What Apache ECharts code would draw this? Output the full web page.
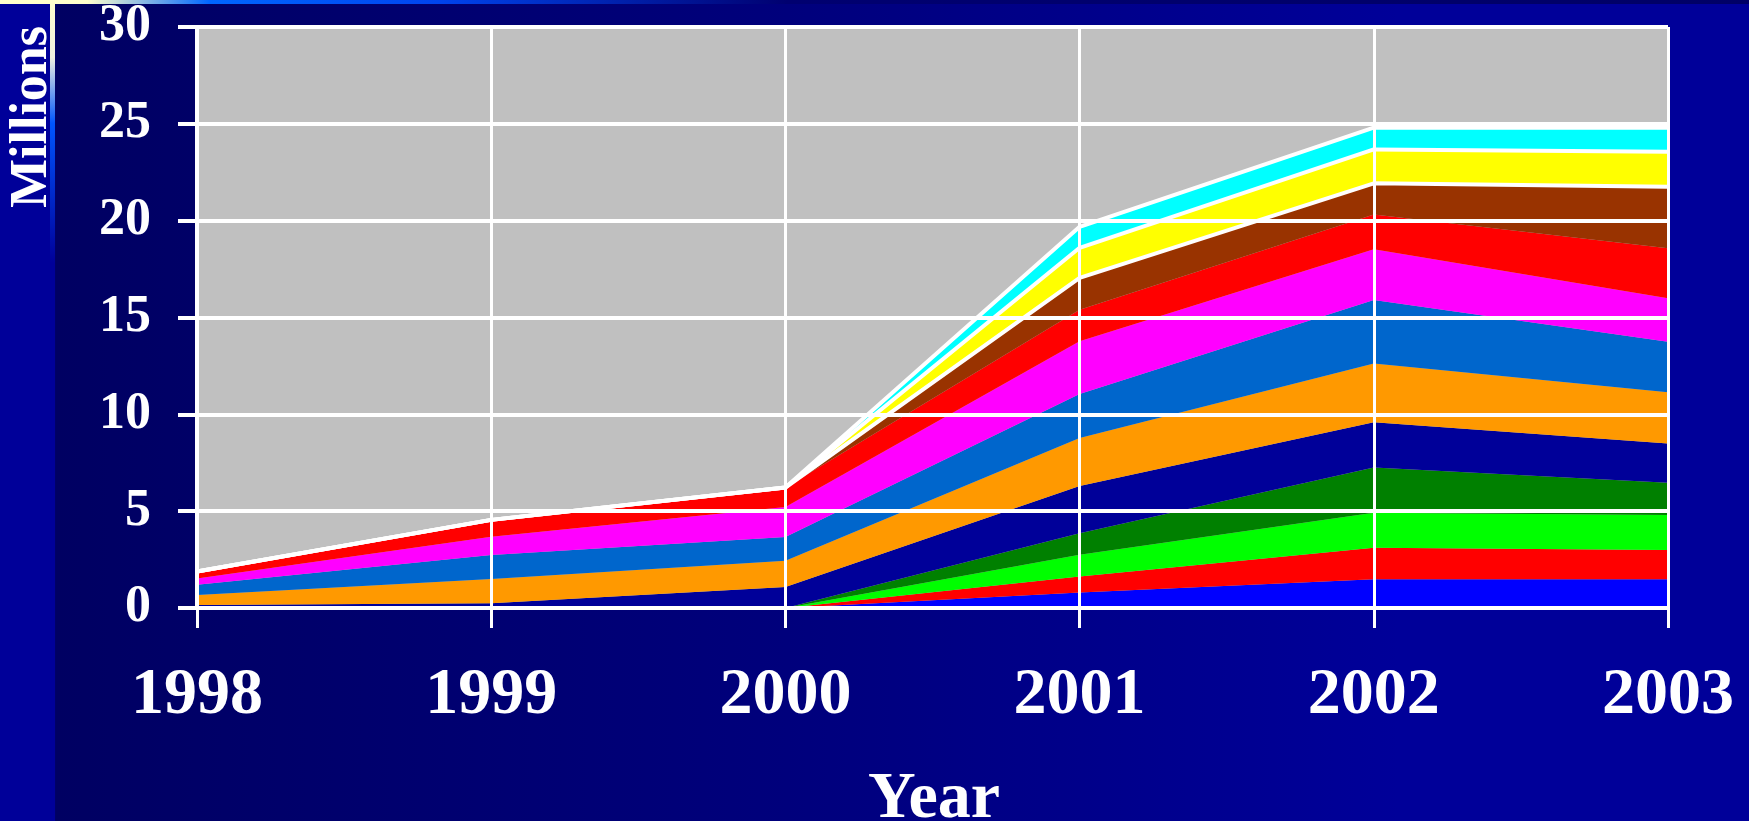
<!DOCTYPE html>
<html>
<head>
<meta charset="utf-8">
<script src="https://cdn.jsdelivr.net/npm/echarts@6/dist/echarts.min.js"></script>
<style>
html,body{margin:0;padding:0;background:#000080;}
#chart{width:1749px;height:821px;}
</style>
</head>
<body>
<div id="chart"></div>
<script>
// ---- data ----
const years = ['1998', '1999', '2000', '2001', '2002', '2003'];
const yTicks = { min: 0, max: 30, interval: 5 };
const s01Blue    = [0, 0, 0, 0.80, 1.48, 1.48];
const s02Red     = [0, 0, 0, 0.83, 1.63, 1.51];
const s03Lime    = [0, 0, 0, 1.12, 1.81, 1.81];
const s04Green   = [0, 0, 0, 1.11, 2.34, 1.67];
const s05Navy    = [0.15, 0.24, 1.08, 2.44, 2.33, 2.03];
const s06Orange  = [0.52, 1.26, 1.36, 2.48, 3.04, 2.64];
const s07MidBlue = [0.53, 1.24, 1.23, 2.27, 3.27, 2.61];
const s08Magenta = [0.32, 0.94, 1.55, 2.72, 2.63, 2.24];
const s09Red     = [0.36, 0.87, 1.00, 1.63, 1.79, 2.58];
const s10Brown   = [0, 0, 0, 1.65, 1.61, 3.18];
const s11Yellow  = [0, 0, 0, 1.55, 1.75, 1.81];
const s12Cyan    = [0, 0, 0, 1.08, 1.12, 1.24];

const seriesData = [s01Blue, s02Red, s03Lime, s04Green, s05Navy, s06Orange,
                    s07MidBlue, s08Magenta, s09Red, s10Brown, s11Yellow, s12Cyan];
const colors = ['#0000FF', '#FF0000', '#00FF00', '#008000', '#000099', '#FF9900',
                '#0066CC', '#FF00FF', '#FF0000', '#993300', '#FFFF00', '#00FFFF'];
const whiteEdged = [false, false, false, false, false, false, false, false, false, true, true, true];

const FONT = "'Liberation Serif', 'Times New Roman', serif";

const chart = echarts.init(document.getElementById('chart'));
chart.setOption({
  animation: false,
  backgroundColor: 'transparent',
  graphic: [
    { type: 'rect', z: -10, silent: true, shape: { x: 0, y: 0, width: 1749, height: 821 },
      style: { fill: new echarts.graphic.LinearGradient(0, 0, 1, 0, [
        { offset: 0, color: '#000099' }, { offset: 0.029, color: '#000099' },
        { offset: 0.032, color: '#000062' }, { offset: 0.45, color: '#00007c' },
        { offset: 0.8, color: '#000099' }, { offset: 1, color: '#000099' }]) } },
    { type: 'rect', z: -9, silent: true, shape: { x: 50, y: 0, width: 5, height: 821 },
      style: { fill: new echarts.graphic.LinearGradient(0, 0, 0, 1, [
        { offset: 0, color: '#ffffcc' }, { offset: 0.07, color: '#f0f0e0' },
        { offset: 0.15, color: '#0055ff' }, { offset: 0.32, color: '#000099' },
        { offset: 1, color: '#000099' }]) } },
    { type: 'rect', z: -9, silent: true, shape: { x: 0, y: 0, width: 1749, height: 4 },
      style: { fill: new echarts.graphic.LinearGradient(0, 0, 1, 0, [
        { offset: 0, color: '#ffffcc' }, { offset: 0.05, color: '#ffffcc' },
        { offset: 0.12, color: '#0066ff' }, { offset: 0.25, color: '#0044ee' },
        { offset: 0.45, color: '#000070' }, { offset: 1, color: '#000066' }]) } },
    { type: 'text', z: 10, x: 33, y: 117, rotation: Math.PI / 2,
      style: { text: 'Millions', fill: '#ffffff', font: 'bold 52px ' + FONT,
               align: 'center', verticalAlign: 'middle' } },
    { type: 'text', z: 10, x: 934, y: 800,
      style: { text: 'Year', fill: '#ffffff', font: 'bold 66px ' + FONT,
               align: 'center', verticalAlign: 'middle' } }
  ],
  grid: {
    left: 197, right: 81, top: 27, bottom: 213,
    show: true, backgroundColor: '#C0C0C0', borderWidth: 0
  },
  xAxis: {
    type: 'category', data: years, boundaryGap: false,
    axisLine: { show: true, lineStyle: { color: '#ffffff', width: 3 } },
    axisTick: { show: true, length: 20, lineStyle: { color: '#ffffff', width: 3 } },
    axisLabel: { color: '#ffffff', fontFamily: FONT, fontWeight: 'bold', fontSize: 66, margin: 55 },
    splitLine: { show: true, lineStyle: { color: '#ffffff', width: 3 } },
    z: 5
  },
  yAxis: {
    type: 'value', min: yTicks.min, max: yTicks.max, interval: yTicks.interval,
    axisLine: { show: true, lineStyle: { color: '#ffffff', width: 4 } },
    axisTick: { show: true, length: 19, lineStyle: { color: '#ffffff', width: 4 } },
    axisLabel: { color: '#ffffff', fontFamily: FONT, fontWeight: 'bold', fontSize: 52, margin: 46 },
    splitLine: { show: true, lineStyle: { color: '#ffffff', width: 4 } },
    z: 5
  },
  series: seriesData.map((d, i) => ({
    type: 'line', stack: 'total', data: d, symbol: 'none', smooth: false,
    z: 3,
    areaStyle: { color: colors[i], opacity: 1 },
    lineStyle: whiteEdged[i] ? { color: '#ffffff', width: 4 } : { width: 0, opacity: 0 },
    itemStyle: { color: colors[i] }
  }))
});
</script>
</body>
</html>
